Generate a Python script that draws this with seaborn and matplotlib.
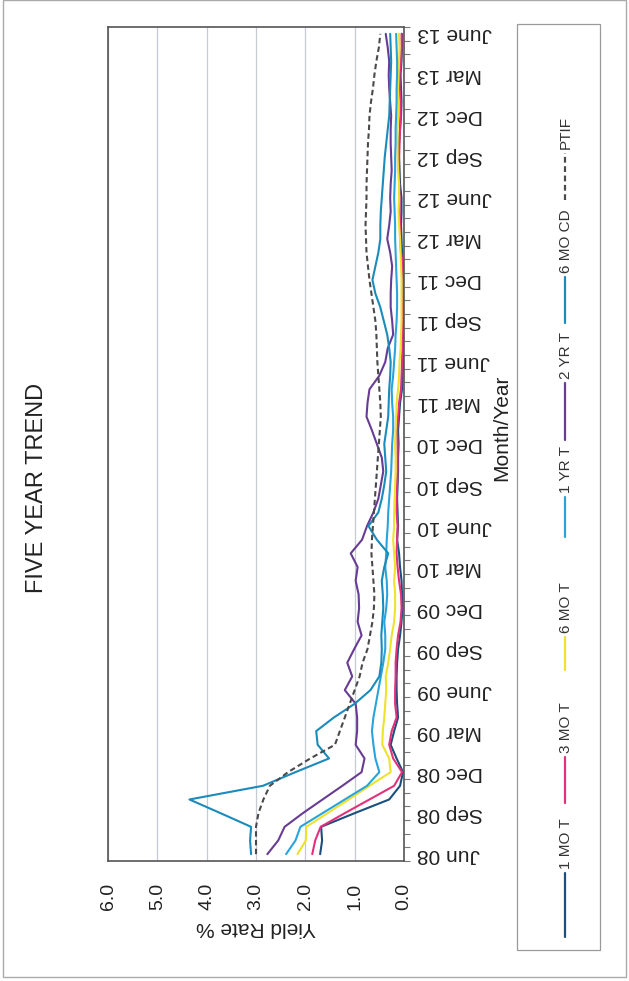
import numpy as np
import pandas as pd
import matplotlib
matplotlib.use("Agg")
import matplotlib.pyplot as plt
import seaborn as sns
from matplotlib.patches import Rectangle

# ---------------- data ----------------
months = pd.date_range("2008-06-01", "2013-06-01", freq="MS").strftime("%b %y").tolist()
tick_labels = ["Jun 08", "Sep 08", "Dec 08", "Mar 09", "June 09", "Sep 09", "Dec 09",
               "Mar 10", "June 10", "Sep 10", "Dec 10", "Mar 11", "June 11", "Sep 11",
               "Dec 11", "Mar 12", "June 12", "Sep 12", "Dec 12", "Mar 13", "June 13"]
value_ticks = [0.0, 1.0, 2.0, 3.0, 4.0, 5.0, 6.0]

one_mo_t = [1.70, 1.66, 1.68, 1.00, 0.30, 0.08, 0.02, 0.15, 0.27, 0.20, 0.12, 0.14, 0.15, 0.15, 0.14, 0.12,
            0.08, 0.05, 0.03, 0.04, 0.05, 0.08, 0.10, 0.14, 0.12, 0.13, 0.14, 0.13, 0.12, 0.12, 0.11, 0.12,
            0.10, 0.08, 0.04, 0.03, 0.02, 0.02, 0.03, 0.02, 0.01, 0.01, 0.01, 0.02, 0.04, 0.05, 0.06, 0.05,
            0.05, 0.08, 0.09, 0.10, 0.10, 0.08, 0.06, 0.05, 0.06, 0.07, 0.05, 0.04, 0.04]
three_mo_t = [1.86, 1.80, 1.69, 1.20, 0.70, 0.20, 0.04, 0.22, 0.30, 0.25, 0.15, 0.18, 0.18, 0.17, 0.17, 0.15,
              0.12, 0.07, 0.05, 0.06, 0.10, 0.13, 0.15, 0.14, 0.13, 0.15, 0.15, 0.14, 0.13, 0.13, 0.13, 0.14,
              0.12, 0.10, 0.06, 0.05, 0.04, 0.03, 0.03, 0.02, 0.02, 0.01, 0.01, 0.02, 0.06, 0.08, 0.08, 0.09,
              0.09, 0.10, 0.10, 0.10, 0.09, 0.08, 0.07, 0.07, 0.09, 0.09, 0.06, 0.05, 0.05]
six_mo_t = [2.16, 1.99, 1.98, 1.55, 1.12, 0.70, 0.27, 0.30, 0.44, 0.43, 0.40, 0.38, 0.36, 0.37, 0.32, 0.28,
            0.25, 0.20, 0.18, 0.18, 0.20, 0.18, 0.20, 0.22, 0.20, 0.20, 0.19, 0.18, 0.17, 0.17, 0.18, 0.17,
            0.16, 0.15, 0.12, 0.10, 0.09, 0.07, 0.06, 0.05, 0.05, 0.05, 0.05, 0.06, 0.07, 0.08, 0.10, 0.11,
            0.10, 0.10, 0.12, 0.13, 0.13, 0.13, 0.12, 0.11, 0.12, 0.11, 0.10, 0.09, 0.10]
one_yr_t = [2.39, 2.20, 2.10, 1.65, 1.20, 0.75, 0.50, 0.58, 0.62, 0.65, 0.62, 0.57, 0.52, 0.47, 0.42, 0.38,
            0.38, 0.40, 0.36, 0.34, 0.35, 0.38, 0.36, 0.35, 0.33, 0.32, 0.30, 0.28, 0.26, 0.25, 0.24, 0.22,
            0.22, 0.24, 0.25, 0.22, 0.20, 0.18, 0.17, 0.15, 0.14, 0.14, 0.15, 0.16, 0.17, 0.18, 0.18, 0.19,
            0.20, 0.19, 0.18, 0.18, 0.17, 0.17, 0.16, 0.15, 0.15, 0.14, 0.14, 0.15, 0.16]
two_yr_t = [2.77, 2.55, 2.42, 2.05, 1.65, 1.25, 0.86, 0.80, 0.98, 0.95, 0.95, 0.98, 1.20, 1.05, 1.15, 1.01,
            0.86, 0.94, 0.91, 0.92, 0.98, 0.94, 1.08, 0.85, 0.75, 0.62, 0.52, 0.47, 0.42, 0.45, 0.55, 0.65,
            0.76, 0.74, 0.70, 0.50, 0.38, 0.33, 0.22, 0.24, 0.27, 0.27, 0.26, 0.24, 0.28, 0.34, 0.30, 0.27,
            0.28, 0.27, 0.25, 0.26, 0.27, 0.27, 0.26, 0.28, 0.30, 0.31, 0.30, 0.33, 0.37]
six_mo_cd = [3.10, 3.12, 3.10, 3.72, 4.35, 2.86, 2.20, 1.52, 1.75, 1.78, 1.42, 1.00, 0.68, 0.50, 0.46, 0.45,
             0.46, 0.44, 0.42, 0.43, 0.45, 0.40, 0.32, 0.55, 0.72, 0.52, 0.45, 0.40, 0.36, 0.38, 0.40, 0.36,
             0.32, 0.31, 0.30, 0.28, 0.27, 0.30, 0.34, 0.41, 0.48, 0.58, 0.64, 0.58, 0.52, 0.48, 0.48, 0.47,
             0.45, 0.43, 0.41, 0.39, 0.36, 0.33, 0.30, 0.29, 0.28, 0.27, 0.26, 0.27, 0.28]
ptif = [3.00, 3.00, 3.00, 2.95, 2.85, 2.72, 2.35, 1.90, 1.40, 1.30, 1.20, 1.10, 1.00, 0.90, 0.84, 0.74,
        0.69, 0.64, 0.61, 0.60, 0.62, 0.64, 0.66, 0.65, 0.63, 0.61, 0.59, 0.57, 0.55, 0.53, 0.51, 0.49,
        0.47, 0.48, 0.50, 0.52, 0.54, 0.55, 0.56, 0.58, 0.62, 0.66, 0.70, 0.73, 0.76, 0.77, 0.78, 0.77,
        0.76, 0.76, 0.75, 0.74, 0.73, 0.71, 0.70, 0.67, 0.63, 0.60, 0.56, 0.51, 0.48]

series_names = ["1 MO T", "3 MO T", "6 MO T", "1 YR T", "2 YR T", "6 MO CD", "PTIF"]
series_values = [one_mo_t, three_mo_t, six_mo_t, one_yr_t, two_yr_t, six_mo_cd, ptif]

colors = {"1 MO T": "#1d4f7c", "3 MO T": "#e3307c", "6 MO T": "#eee22c", "1 YR T": "#2aa3da",
          "2 YR T": "#673c92", "6 MO CD": "#1b8bbb", "PTIF": "#4a4a4a"}
dash_map = {"1 MO T": "", "3 MO T": "", "6 MO T": "", "1 YR T": "", "2 YR T": "", "6 MO CD": "",
            "PTIF": (2.6, 1.6)}

idx = np.arange(len(months))
df = pd.concat([pd.DataFrame({"Month": idx, "Yield": vals, "Series": name})
                for name, vals in zip(series_names, series_values)], ignore_index=True)

# ---------------- style ----------------
sns.set_style("white")
plt.rcParams['font.family'] = ['Liberation Sans', 'DejaVu Sans']

W, H = 629, 981
fig = plt.figure(figsize=(W / 100, H / 100), dpi=100)

# overlay for page frame and legend (pixel coordinates)
lax = fig.add_axes([0, 0, 1, 1])
lax.set_xlim(0, W)
lax.set_ylim(H, 0)
lax.axis('off')
lax.add_patch(Rectangle((3, 0), 623, 977, fill=False, edgecolor="#aaaaaa", lw=1.0))

L, R, T, B = 108, 404, 27, 861
ax = fig.add_axes([L / W, 1 - B / H, (R - L) / W, (B - T) / H])

sns.lineplot(data=df, x="Yield", y="Month", hue="Series", style="Series",
             palette=colors, dashes=dash_map, orient="y", estimator=None,
             linewidth=1.5, legend=False, ax=ax)

ax.set_xlim(6, 0)
ax.set_ylim(-0.5, len(months) - 0.5)

ax.set_xticks(value_ticks)
ax.set_xticklabels([f"{v:.1f}" for v in value_ticks], rotation=90, fontsize=14, color="#222222")
ax.xaxis.grid(True, color="#c6cad4", lw=0.9)
ax.yaxis.grid(False)

ax.yaxis.tick_right()
ax.set_yticks(idx[::3])
ax.set_yticklabels(tick_labels, rotation=180, fontsize=15, ha='left', va='center', color="#222222")
ax.set_yticks(np.arange(-0.5, len(months), 1), minor=True)
ax.tick_params(axis='y', which='major', length=0, pad=9.5)
ax.tick_params(axis='y', which='minor', length=4, width=0.8, color="#777777", direction='out',
               right=True, left=False)
ax.tick_params(axis='x', which='major', length=4, width=0.8, color="#777777", direction='out', pad=12)

for s in ax.spines.values():
    s.set_visible(True)
    s.set_color("#555555")
    s.set_linewidth(1.2)

ax.set_xlabel("Yield Rate %", rotation=180, fontsize=15, color="#222222")
ax.xaxis.set_label_coords(0.5, (B - 928) / (B - T))
ax.xaxis.label.set_va('center')

ax.yaxis.set_label_position('right')
ax.set_ylabel("Month/Year", rotation=90, fontsize=15, color="#222222")
ax.yaxis.set_label_coords((502 - L) / (R - L), (B - 428) / (B - T))
ax.yaxis.label.set_va('center')
ax.yaxis.label.set_ha('center')

fig.text(37 / W, 1 - 488 / H, "FIVE YEAR TREND", rotation=90, ha='center', va='center',
         fontsize=17, color="#222222")

# ---------------- legend (rotated, drawn manually) ----------------
lax.add_patch(Rectangle((517, 24), 83, 926, fill=False, edgecolor="#9a9a9a", lw=0.9))
legend_slots = [(937, 873), (803, 757), (670, 637), (537, 497), (440, 383), (323, 277), (200, 153)]
lx = 565
for name, (yb, yt) in zip(series_names, legend_slots):
    ls = '-' if dash_map[name] == "" else (0, dash_map[name])
    lax.plot([lx, lx], [yb, yt], color=colors[name], lw=1.6, linestyle=ls)
    lax.text(lx + 1, yt - 4, name, rotation=90, ha='center', va='bottom', fontsize=11, color="#333333")

fig.savefig("out.png", dpi=100)
